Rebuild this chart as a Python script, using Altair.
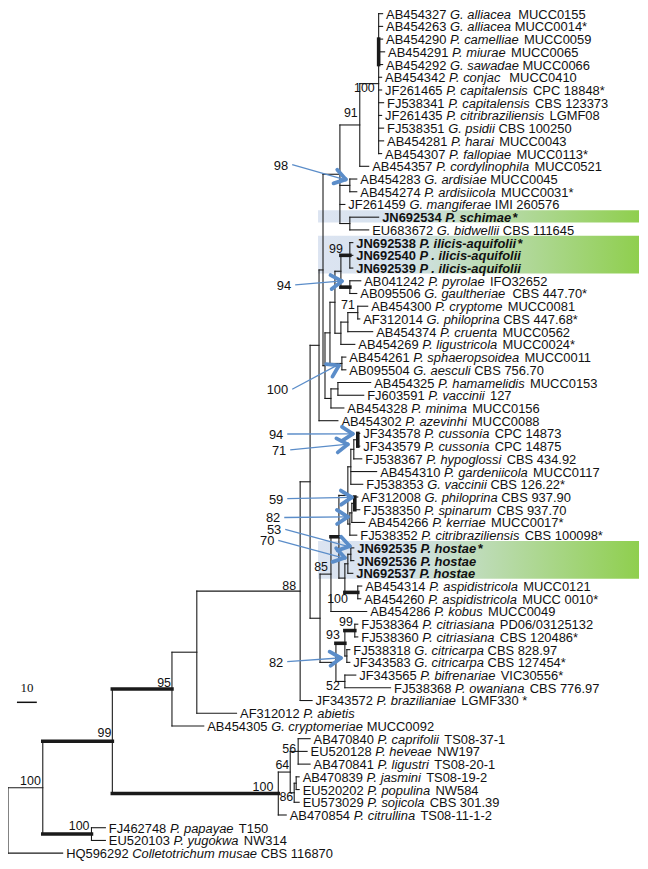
import math
import altair as alt
import pandas as pd

# ---------------- leaves (top to bottom) ----------------
ACC = ["AB454327", "AB454263", "AB454290", "AB454291", "AB454292", "AB454342", "JF261465",
       "FJ538341", "JF261435", "FJ538351", "AB454281", "AB454307", "AB454357", "AB454283",
       "AB454274", "JF261459", "JN692534", "EU683672", "JN692538", "JN692540", "JN692539",
       "AB041242", "AB095506", "AB454300", "AF312014", "AB454374", "AB454269", "AB454261",
       "AB095504", "AB454325", "FJ603591", "AB454328", "AB454302", "JF343578", "JF343579",
       "FJ538367", "AB454310", "FJ538353", "AF312008", "FJ538350", "AB454266", "FJ538352",
       "JN692535", "JN692536", "JN692537", "AB454314", "AB454260", "AB454286", "FJ538364",
       "FJ538360", "FJ538318", "JF343583", "JF343565", "FJ538368", "JF343572", "AF312012",
       "AB454305", "AB470840", "EU520128", "AB470841", "AB470839", "EU520202", "EU573029",
       "AB470854", "FJ462748", "EU520103", "HQ596292"]
SPECIES = ["G. alliacea", "G. alliacea", "P. camelliae", "P. miurae", "G. sawadae", "P. conjac",
           "P. capitalensis", "P. capitalensis", "P. citribraziliensis", "G. psidii", "P. harai",
           "P. fallopiae", "P. cordylinophila", "G. ardisiae", "P. ardisiicola", "G. mangiferae",
           "P. schimae", "G. bidwellii", "P. ilicis-aquifolii", "P . ilicis-aquifolii",
           "P . ilicis-aquifolii", "P. pyrolae", "G. gaultheriae", "P. cryptome", "G. philoprina",
           "P. cruenta", "P. ligustricola", "P. sphaeropsoidea", "G. aesculi", "P. hamamelidis",
           "P. vaccinii", "P. minima", "P. azevinhi", "P. cussonia", "P. cussonia", "P. hypoglossi",
           "P. gardeniicola", "G. vaccinii", "G. philoprina", "P. spinarum", "P. kerriae",
           "P. citribraziliensis", "P. hostae", "P. hostae", "P. hostae", "P. aspidistricola",
           "P. aspidistricola", "P. kobus", "P. citriasiana", "P. citriasiana", "G. citricarpa",
           "G. citricarpa", "P. bifrenariae", "P. owaniana", "P. brazilianiae", "P. abietis",
           "G. cryptomeriae", "P. caprifolii", "P. heveae", "P. ligustri", "P. jasmini",
           "P. populina", "P. sojicola", "P. citrullina", "P. papayae", "P. yugokwa",
           "Colletotrichum musae"]
# leading spaces = separation after the species name
STRAIN = ["  MUCC0155", " MUCC0014*", " MUCC0059", " MUCC0065", " MUCC0066", "  MUCC0410",
          " CPC 18848*", " CBS 123373", " LGMF08", " CBS 100250", " MUCC0043", " MUCC0113*",
          " MUCC0521", " MUCC0045", " MUCC0031*", " IMI 260576", "*", " CBS 111645", "*", "", "",
          " IFO32652", "  CBS 447.70*", " MUCC0081", " CBS 447.68*", " MUCC0562", " MUCC0024*",
          " MUCC0011", " CBS 756.70", " MUCC0153", " 127", " MUCC0156", " MUCC0088",
          " CPC 14873", " CPC 14875", " CBS 434.92", " MUCC0117", " CBS 126.22*", " CBS 937.90",
          " CBS 937.70", " MUCC0017*", " CBS 100098*", "*", "", "", " MUCC0121", " MUCC 0010*",
          " MUCC0049", " PD06/03125132", " CBS 120486*", " CBS 828.97", " CBS 127454*",
          " VIC30556*", " CBS 776.97", " LGMF330 *", "", " MUCC0092", " TS08-37-1", " NW197",
          " TS08-20-1", " TS08-19-2", " NW584", " CBS 301.39", " TS08-11-1-2", " T150", " NW314",
          " CBS 116870"]
BOLD_ROWS = [16, 18, 19, 20, 42, 43, 44]
LEAF_PARENT = ["J", "J", "J2", "J2", "J2", "J", "J", "J", "J", "J", "J", "J", "K", "ard", "ard",
               "V", "sch", "sch", "ilicis", "ilicis", "ilicis", "pyr", "pyr", "n71", "n71", "X2",
               "X1", "sph", "sph", "ham", "ham", "Y", "U", "cusPair", "cusPair", "cus2", "cusG",
               "cusG", "phil", "phil", "kerr", "phG", "host1", "host1", "host2", "asp", "asp",
               "N85", "cit99", "cit99", "citri", "citri", "n52", "n52", "N88", "H", "C", "F", "F",
               "F", "G2", "G2", "G", "D", "P", "P", "R"]
# distance from root (scale-bar units)
LEAF_DEPTH = [188.5, 188.5, 188.5, 189.5, 188.5, 188, 188, 189, 188, 189, 189, 188, 181.5, 175.5,
              175.5, 169.5, 186.5, 181.5, 173.5, 173.5, 173.5, 177.5, 175.5, 181, 177, 183.5, 174.5,
              170, 170, 182.5, 179, 169, 166, 177, 177, 178, 185.5, 178.5, 176, 177, 179.5, 175.5,
              174, 174, 173.5, 178, 177.5, 180.5, 176, 176, 172, 172, 175, 192.5, 153, 115, 98.5,
              152, 150.5, 152, 146.5, 146.5, 146.5, 140, 49, 49, 27.5]

# ---------------- internal nodes ----------------
NODE_NAME = ["R", "A", "P", "B", "C", "D", "E", "F", "G", "G2", "H", "N88", "I", "U", "U1", "V",
             "K", "J", "J2", "ard", "sch", "Z", "Z1", "Q", "W", "ilicis", "pyr", "X1", "X2", "n71",
             "sph", "Y", "ham", "L", "N85", "MM", "M1", "cusG", "cus2", "cusPair", "phG", "kerr",
             "phil", "host3", "host2", "host1", "asp", "CT", "cit93", "cit99", "citri", "n52"]
NODE_PARENT = [None, "R", "A", "A", "B", "B", "D", "E", "E", "G", "C", "H", "N88", "I", "U", "U1",
               "V", "K", "J", "V", "V", "U1", "Z", "Z1", "Q", "W", "W", "Q", "X1", "X2", "Z1", "Z",
               "Y", "I", "L", "N85", "MM", "M1", "cusG", "cus2", "M1", "phG", "kerr", "MM", "host3",
               "host2", "host3", "L", "CT", "cit93", "cit93", "CT"]
NODE_DEPTH = [0, 17.5, 42, 52.5, 82.5, 136, 142, 146, 144, 145, 95, 147, 152, 156.5,
              158.5, 167, 177, 186.5, 186.5, 172, 172, 159.5, 162, 164.5, 167.5, 172, 172, 167.5,
              171, 176, 168, 162.5, 166, 157, 162.5, 166.5, 171, 172.5, 174, 176, 172, 173, 174.5,
              169.5, 171, 172.5, 176, 165, 169.5, 174.5, 170.5, 169.5]
THICK_BRANCH = ["B", "C", "D", "P", "ilicis", "pyr", "MM", "asp", "cit99", "cit93"]
THICK_VERTICAL = ["J2", "cusPair", "phil"]

# bootstrap support labels
SUP_NODE = ["A", "P", "B", "C", "D", "E", "F", "G", "N88", "J", "K", "ilicis", "n71", "N85",
            "asp", "cit99", "cit93", "n52"]
SUP_TEXT = ["100", "100", "99", "95", "100", "64", "56", "86", "88", "100", "91", "99", "71", "85",
            "100", "99", "93", "52"]
SUP_DX = [-2, -2, -1, -1, -5, -1, -2, -1, -4, -4, -2, -7, -3, -3, -10, -2, -5, -5]
SUP_DY = [-7.5, -9, -9.5, -7, -8, -8, -3.5, 3, -6, 3.6, -13, -7, -9, -8, 5.6, -10, -9.6, 4]

# blue arrow annotations
ARROW_TEXT = ["98", "94", "100", "94", "71", "59", "82", "53", "70", "82"]
ARROW_TARGET = ["ard", "pyr", "sph", "cusPair", "cus2", "phil", "kerr", "host1", "host2", "citri"]
ARROW_LABEL_RIGHT = [290, 293, 290, 285, 288, 285, 282, 283, 276, 285]
ARROW_LABEL_Y = [163, 284, 389, 434, 450, 499, 518, 530, 541, 663]
ARROW_TIP_DX = [-4, -8, -3, -5, -6, -3, -4, -1, -3, -6]
ARROW_TIP_DY = [-6, -6, 2, -6, -5, -6, 4, -8, -6, 2]

HIGHLIGHT_ROWS = [(16, 16), (18, 20), (42, 44)]
SCALE_BAR = 10

# ---------------- geometry helpers ----------------
PX_PER_UNIT = 2.0
ROW_PX = 12.8
ROW0_PX = 3.0
W, H = 636, 855
FONT = "Liberation Sans"
FS = 13

def ux(page_x):
    return (page_x - 8) / PX_PER_UNIT

def ry(page_y):
    return (page_y - 8 - ROW0_PX) / ROW_PX

def px_x(u):
    return 8 + u * PX_PER_UNIT

def px_y(r):
    return 8 + ROW0_PX + r * ROW_PX

REG = {' ': 278, '*': 389, '-': 333, '.': 278, '/': 278}
BOLDW = {' ': 278, '*': 389, '-': 333, '.': 278, '/': 278}
for d in "0123456789":
    REG[d] = 556
    BOLDW[d] = 556
for ch, w in zip("ABCDEFGHIJKLMNOPQRSTUVWXYZ",
                 [667, 667, 722, 722, 667, 611, 778, 722, 278, 500, 667, 556, 833, 722, 778, 667,
                  778, 722, 667, 611, 722, 667, 944, 667, 667, 611]):
    REG[ch] = w
for ch, w in zip("ABCDEFGHIJKLMNOPQRSTUVWXYZ",
                 [722, 722, 722, 722, 667, 611, 778, 722, 278, 556, 722, 611, 833, 722, 778, 667,
                  778, 722, 667, 611, 722, 667, 944, 667, 667, 611]):
    BOLDW[ch] = w
for ch, w in zip("abcdefghijklmnopqrstuvwxyz",
                 [556, 556, 500, 556, 556, 278, 556, 556, 222, 222, 500, 222, 833, 556, 556, 556,
                  556, 333, 500, 278, 556, 500, 722, 500, 500, 500]):
    REG[ch] = w
for ch, w in zip("abcdefghijklmnopqrstuvwxyz",
                 [556, 611, 556, 611, 556, 333, 611, 611, 278, 278, 556, 278, 889, 611, 611, 611,
                  611, 389, 556, 333, 611, 556, 778, 556, 556, 500]):
    BOLDW[ch] = w

def tw(s, bold=False):
    t = BOLDW if bold else REG
    return sum(t.get(c, 556) for c in s) * FS / 1000.0

# ---------------- tree layout ----------------
children = {n: [] for n in NODE_NAME}
for n, p in zip(NODE_NAME, NODE_PARENT):
    if p is not None:
        children[p].append(("node", n))
for i, p in enumerate(LEAF_PARENT):
    children[p].append(("leaf", i))
depth = dict(zip(NODE_NAME, NODE_DEPTH))
ypos = {}

def node_y(n):
    if n in ypos:
        return ypos[n]
    ys = [node_y(c) if k == "node" else float(c) for k, c in children[n]]
    ypos[n] = (min(ys) + max(ys)) / 2.0
    return ypos[n]

for n in NODE_NAME:
    node_y(n)

segs = []
for n, p in zip(NODE_NAME, NODE_PARENT):
    if p is not None:
        segs.append(dict(x=depth[p], x2=depth[n], y=ypos[n], y2=ypos[n],
                         w=3.6 if n in THICK_BRANCH else 1.1))
for i, p in enumerate(LEAF_PARENT):
    segs.append(dict(x=depth[p], x2=LEAF_DEPTH[i], y=i, y2=i, w=1.1))
for n in NODE_NAME:
    ys = [ypos[c] if k == "node" else float(c) for k, c in children[n]]
    segs.append(dict(x=depth[n], x2=depth[n], y=min(ys), y2=max(ys),
                     w=3.6 if n in THICK_VERTICAL else 1.1))
seg_df = pd.DataFrame(segs)

# leaf labels
rows = {k: [] for k in ["acc_n", "sp_n", "st_n", "acc_b", "sp_b", "st_b"]}
for i in range(len(ACC)):
    b = i in BOLD_ROWS
    sfx = "b" if b else "n"
    x0 = px_x(LEAF_DEPTH[i]) + 3.5
    rows["acc_" + sfx].append(dict(x=ux(x0), y=i, t=ACC[i]))
    x1 = x0 + tw(ACC[i], b) + tw(" ", b)
    rows["sp_" + sfx].append(dict(x=ux(x1), y=i, t=SPECIES[i]))
    s = STRAIN[i]
    if s.strip():
        lead = len(s) - len(s.lstrip(" "))
        x2 = x1 + tw(SPECIES[i], b) + lead * tw(" ", b)
        rows["st_" + sfx].append(dict(x=ux(x2), y=i, t=s.strip()))

# support labels
sup_df = pd.DataFrame([
    dict(x=ux(px_x(depth[n]) + dx), y=ypos[n] + dy / ROW_PX, t=t)
    for n, t, dx, dy in zip(SUP_NODE, SUP_TEXT, SUP_DX, SUP_DY)])

# arrows
arr_lines, arr_heads, arr_labels = [], [], []
for t, n, lx, ly, dx, dy in zip(ARROW_TEXT, ARROW_TARGET, ARROW_LABEL_RIGHT, ARROW_LABEL_Y,
                                ARROW_TIP_DX, ARROW_TIP_DY):
    tipx = px_x(depth[n]) + dx
    tipy = px_y(ypos[n]) + dy
    sx, sy = lx + 4, ly
    arr_labels.append(dict(x=ux(lx), y=ry(ly), t=t))
    arr_lines.append(dict(x=ux(sx), x2=ux(tipx - 2), y=ry(sy), y2=ry(tipy)))
    L = math.hypot(tipx - sx, tipy - sy)
    ddx, ddy = (tipx - sx) / L, (tipy - sy) / L
    for ang in (33, -33):
        a = math.radians(ang)
        bx = -(ddx * math.cos(a) - ddy * math.sin(a))
        by = -(ddx * math.sin(a) + ddy * math.cos(a))
        arr_heads.append(dict(x=ux(tipx), y=ry(tipy), x2=ux(tipx + 13 * bx), y2=ry(tipy + 13 * by)))

# highlight boxes
box_df = pd.DataFrame([dict(x=ux(320), x2=ux(643), y=a - 0.55, y2=b + 0.42) for a, b in HIGHLIGHT_ROWS])

# scale bar
bar_x0 = ux(17)
bar_df = pd.DataFrame([dict(x=bar_x0, x2=bar_x0 + SCALE_BAR, y=ry(704), y2=ry(704))])
bar_lab = pd.DataFrame([dict(x=bar_x0 + SCALE_BAR / 2, y=ry(690), t=str(SCALE_BAR))])

# ---------------- chart ----------------
XS = alt.Scale(domain=[0, W / PX_PER_UNIT], nice=False, zero=False)
YS = alt.Scale(domain=[-ROW0_PX / ROW_PX, (H - ROW0_PX) / ROW_PX], reverse=True, nice=False, zero=False)

def X(f="x"):
    return alt.X(f + ":Q", scale=XS, axis=None)

def Y(f="y"):
    return alt.Y(f + ":Q", scale=YS, axis=None)

grad = alt.LinearGradient(gradient="linear", x1=0, x2=1, y1=0, y2=0,
                          stops=[alt.GradientStop(offset=0, color="#dce4f1"),
                                 alt.GradientStop(offset=0.25, color="#d6e2ee"),
                                 alt.GradientStop(offset=1, color="#8fcf4e")])
boxes = alt.Chart(box_df).mark_rect(color=grad).encode(x=X(), x2="x2:Q", y=Y(), y2="y2:Q")

tree = alt.Chart(seg_df).mark_rule(color="#1a1a1a", strokeCap="square").encode(
    x=X(), x2="x2:Q", y=Y(), y2="y2:Q", size=alt.Size("w:Q", scale=None, legend=None))

def text_layer(key, bold, italic):
    return alt.Chart(pd.DataFrame(rows[key])).mark_text(
        align="left", baseline="middle", font=FONT, fontSize=FS, color="#111",
        fontWeight="bold" if bold else "normal", fontStyle="italic" if italic else "normal",
        dy=1).encode(x=X(), y=Y(), text="t:N")

texts = [text_layer("acc_n", False, False), text_layer("sp_n", False, True),
         text_layer("st_n", False, False), text_layer("acc_b", True, False),
         text_layer("sp_b", True, True), text_layer("st_b", True, False)]

sup = alt.Chart(sup_df).mark_text(align="right", baseline="middle", font=FONT, fontSize=12.5,
                                  color="#111", dy=1).encode(x=X(), y=Y(), text="t:N")

BLUE = "#5b8dc9"
a_lines = alt.Chart(pd.DataFrame(arr_lines)).mark_rule(color=BLUE, strokeWidth=1.3).encode(
    x=X(), x2="x2:Q", y=Y(), y2="y2:Q")
a_heads = alt.Chart(pd.DataFrame(arr_heads)).mark_rule(color=BLUE, strokeWidth=3.8, strokeCap="round").encode(
    x=X(), x2="x2:Q", y=Y(), y2="y2:Q")
a_labels = alt.Chart(pd.DataFrame(arr_labels)).mark_text(
    align="right", baseline="middle", font=FONT, fontSize=13, color="#111", dy=1).encode(
    x=X(), y=Y(), text="t:N")

bar = alt.Chart(bar_df).mark_rule(color="#111", strokeWidth=1.5).encode(x=X(), x2="x2:Q", y=Y(), y2="y2:Q")
bar_t = alt.Chart(bar_lab).mark_text(align="center", baseline="middle", font="Liberation Serif",
                                     fontSize=13, color="#111").encode(x=X(), y=Y(), text="t:N")

chart = alt.layer(boxes, tree, *texts, sup, a_lines, a_heads, a_labels, bar, bar_t).properties(
    width=W, height=H, padding=0, autosize="none", background="white"
).configure_view(stroke=None)

chart.save("out.html", embed_options={"renderer": "svg", "actions": False})
